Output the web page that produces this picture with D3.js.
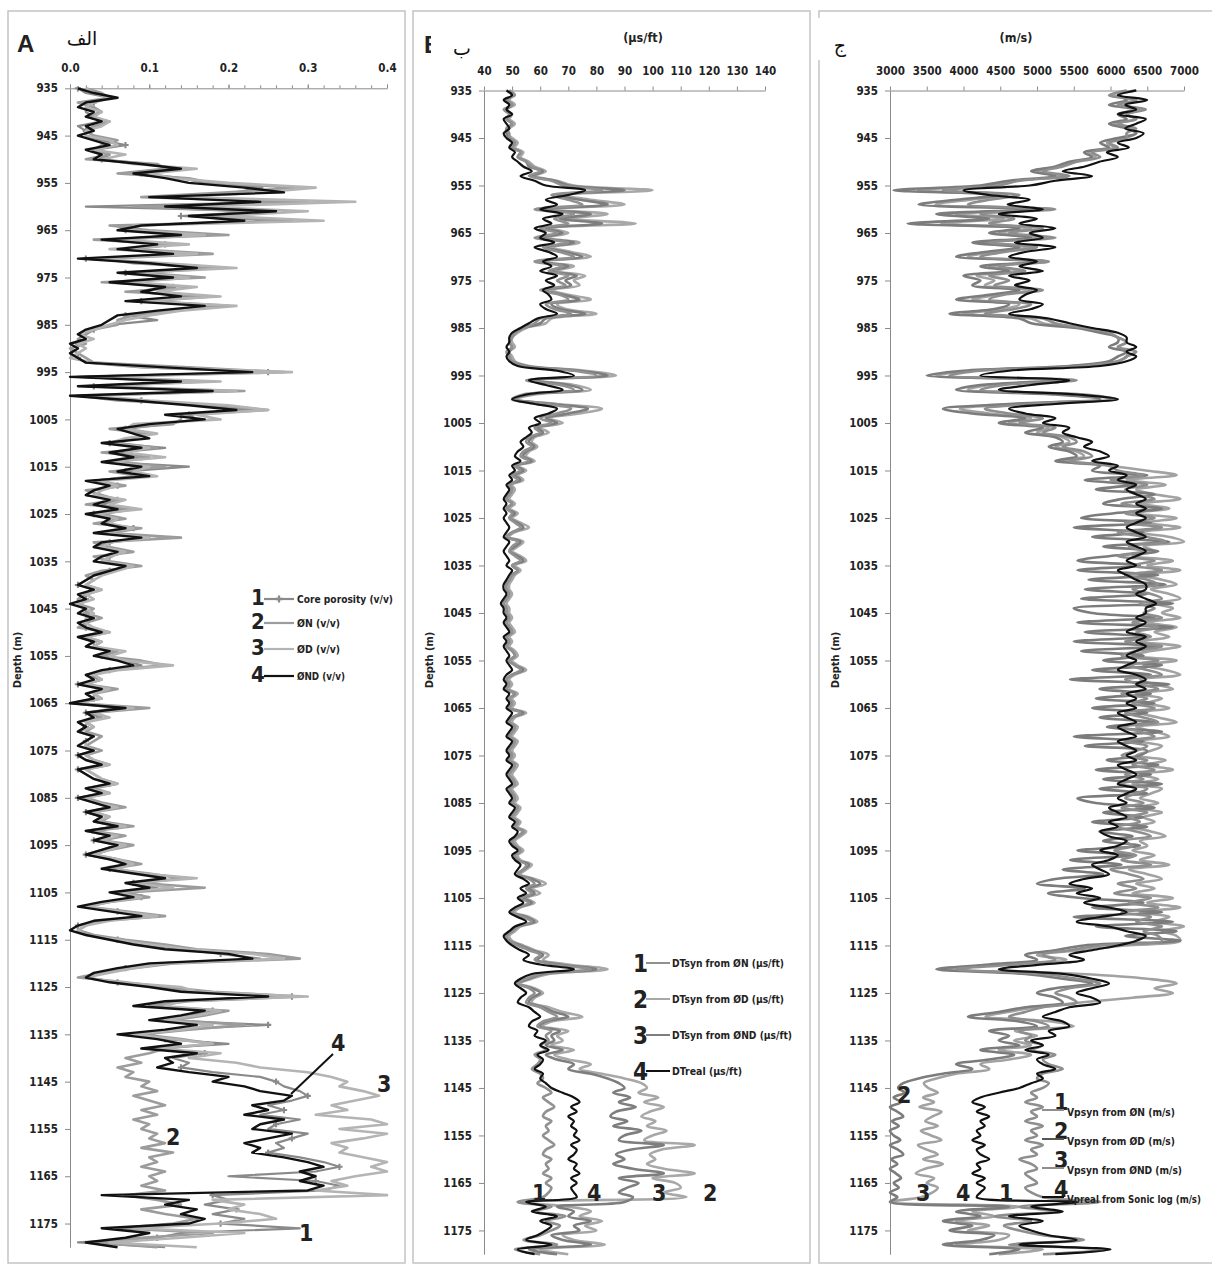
<!DOCTYPE html>
<html>
<head>
<meta charset="utf-8">
<script src="https://d3js.org/d3.v7.min.js"></script>
<style>
body {margin: 0; background: #fff;}
svg text {font-family: "Liberation Sans Narrow", "Arial Narrow", "DejaVu Sans Condensed", sans-serif; font-weight: bold; fill: #222;}
.axis path, .axis line {stroke: #8a8a8a;}
</style>
</head>
<body>
<div id="chart"></div>
<script>
// depth samples, 1 m apart
var depths = d3.range(935, 1181);
var depthTicks = [935,945,955,965,975,985,995,1005,1015,1025,1035,1045,1055,1065,1075,1085,1095,1105,1115,1125,1135,1145,1155,1165,1175];
var porTicks = [0.0, 0.1, 0.2, 0.3, 0.4];
var dtTicks = [40,50,60,70,80,90,100,110,120,130,140];
var vpTicks = [3000,3500,4000,4500,5000,5500,6000,6500,7000];

// --- panel A : porosity (v/v)
var corePor = [
.01,.02,.05,.03,.02,.02,.03,.04,.01,.02,
.02,.04,.07,.03,.05,.04,.10,.13,.09,.14,
.17,.24,.21,.12,.27,.02,.25,.14,.27,.06,
.07,.15,.05,.12,.07,.15,.02,.11,.18,.07,
.14,.06,.13,.08,.16,.09,.18,.12,.07,.11,
.05,.03,.02,.02,.01,.01,.00,.01,.02,.09,
.25,.01,.15,.03,.20,.02,.09,.17,.23,.15,
.16,.12,.07,.09,.08,.05,.12,.06,.09,.05,
.15,.07,.08,.03,.06,.03,.02,.06,.04,.07,
.03,.06,.04,.08,.04,.10,.05,.03,.07,.05,
.04,.08,.05,.03,.02,.01,.03,.02,.02,.01,
.02,.02,.03,.01,.02,.05,.01,.03,.02,.06,
.04,.07,.09,.05,.02,.04,.01,.05,.02,.03,
.00,.06,.02,.04,.01,.02,.01,.03,.02,.02,
.03,.01,.02,.04,.01,.02,.03,.05,.02,.04,
.01,.03,.05,.02,.04,.03,.06,.02,.05,.03,
.06,.04,.02,.05,.08,.05,.09,.15,.08,.11,
.06,.09,.05,.02,.06,.10,.04,.01,.01,.03,
.06,.09,.14,.19,.24,.11,.07,.04,.02,.06,
.11,.15,.28,.14,.10,.18,.15,.11,.25,.13,
.07,.12,.20,.10,.17,.13,.15,.14,.18,.24,
.26,.27,.29,.30,.28,.25,.27,.24,.29,.26,
.25,.30,.28,.26,.27,.25,.29,.32,.34,.31,
.20,.31,.34,.32,.18,.20,.17,.21,.18,.22,
.19,.29,.14,.11,.01,.12];
var phiN = [
.02,.04,.05,.01,.03,.04,.02,.05,.03,.02,
.03,.06,.04,.03,.05,.02,.11,.12,.06,.15,
.18,.29,.20,.09,.30,.08,.22,.18,.28,.05,
.10,.20,.03,.13,.08,.18,.04,.08,.19,.09,
.17,.04,.15,.07,.18,.10,.20,.13,.08,.06,
.06,.03,.02,.01,.02,.00,.01,.02,.03,.15,
.27,.02,.17,.03,.22,.01,.06,.18,.25,.14,
.14,.13,.05,.10,.08,.06,.11,.04,.10,.06,
.12,.05,.09,.03,.07,.02,.04,.06,.02,.08,
.04,.07,.03,.09,.05,.14,.03,.05,.08,.03,
.05,.09,.04,.02,.03,.02,.04,.02,.01,.01,
.03,.02,.04,.02,.01,.05,.02,.04,.03,.06,
.04,.09,.12,.05,.03,.04,.02,.06,.03,.04,
.01,.10,.03,.04,.02,.03,.02,.04,.03,.02,
.04,.02,.03,.05,.02,.03,.04,.06,.03,.05,
.02,.04,.07,.03,.05,.04,.08,.03,.07,.04,
.08,.05,.03,.06,.09,.05,.10,.14,.09,.17,
.07,.10,.05,.02,.07,.12,.04,.02,.01,.03,
.07,.12,.16,.25,.29,.13,.08,.04,.01,.07,
.12,.18,.29,.15,.10,.20,.17,.13,.22,.15,
.09,.14,.18,.12,.10,.07,.09,.06,.08,.07,
.10,.09,.11,.08,.10,.12,.09,.11,.08,.10,
.09,.11,.10,.12,.09,.13,.10,.11,.09,.12,
.10,.11,.09,.12,.07,.11,.14,.09,.12,.16,
.13,.06,.18,.09,.03,.11];
var phiD = [
.02,.03,.05,.03,.02,.04,.03,.05,.04,.02,
.02,.05,.06,.03,.07,.04,.08,.16,.10,.13,
.20,.31,.24,.14,.36,.16,.30,.19,.32,.08,
.08,.17,.06,.15,.05,.16,.03,.12,.21,.08,
.15,.08,.16,.11,.19,.08,.21,.14,.10,.07,
.05,.03,.01,.03,.01,.02,.01,.00,.03,.10,
.28,.03,.19,.02,.21,.03,.10,.20,.25,.16,
.19,.08,.07,.11,.07,.05,.10,.07,.12,.05,
.10,.08,.11,.04,.06,.04,.03,.07,.05,.09,
.03,.06,.05,.08,.04,.10,.05,.04,.07,.05,
.04,.08,.06,.04,.03,.02,.04,.02,.03,.01,
.02,.03,.02,.02,.03,.05,.02,.04,.03,.07,
.05,.07,.13,.06,.03,.04,.02,.05,.03,.04,
.01,.08,.03,.05,.02,.03,.01,.03,.02,.02,
.03,.02,.03,.05,.02,.03,.04,.06,.02,.05,
.02,.03,.06,.03,.05,.03,.07,.02,.06,.04,
.07,.05,.03,.06,.08,.06,.09,.16,.08,.13,
.06,.09,.05,.02,.06,.11,.05,.02,.01,.02,
.06,.10,.15,.23,.27,.12,.08,.05,.02,.06,
.14,.16,.30,.14,.12,.19,.16,.12,.18,.14,
.08,.13,.18,.11,.19,.15,.21,.24,.30,.33,
.35,.34,.37,.39,.36,.33,.35,.31,.38,.40,
.34,.40,.37,.33,.35,.34,.37,.40,.38,.40,
.36,.33,.35,.31,.40,.18,.22,.20,.24,.26,
.19,.08,.22,.14,.05,.16];
var phiND = [
.01,.03,.06,.02,.01,.03,.02,.04,.02,.03,
.01,.03,.05,.02,.04,.03,.09,.14,.08,.12,
.15,.22,.27,.10,.24,.12,.26,.15,.22,.09,
.06,.14,.04,.11,.06,.13,.01,.10,.16,.06,
.13,.05,.12,.09,.14,.07,.17,.11,.06,.05,
.04,.02,.01,.02,.00,.01,.00,.01,.02,.12,
.23,.00,.14,.01,.18,.00,.08,.15,.21,.12,
.17,.10,.06,.08,.10,.04,.09,.05,.08,.04,
.09,.06,.10,.02,.05,.03,.02,.05,.03,.06,
.02,.05,.04,.07,.03,.09,.04,.03,.06,.04,
.03,.07,.05,.03,.02,.01,.03,.01,.02,.00,
.02,.01,.03,.01,.02,.04,.01,.03,.02,.05,
.03,.06,.08,.04,.02,.03,.01,.04,.02,.03,
.00,.07,.02,.03,.01,.02,.01,.03,.02,.01,
.03,.01,.02,.04,.01,.02,.03,.05,.02,.04,
.01,.03,.05,.02,.04,.03,.06,.02,.05,.03,
.06,.04,.02,.05,.07,.04,.08,.12,.07,.10,
.05,.08,.04,.01,.05,.09,.03,.01,.00,.02,
.05,.08,.12,.20,.23,.10,.06,.03,.02,.05,
.10,.14,.25,.12,.08,.17,.14,.10,.16,.12,
.06,.11,.14,.09,.16,.12,.13,.11,.15,.20,
.18,.22,.24,.28,.27,.23,.25,.22,.27,.24,
.23,.28,.25,.22,.24,.23,.27,.30,.32,.29,
.31,.29,.32,.30,.04,.15,.12,.16,.14,.17,
.15,.04,.10,.07,.02,.06];

// --- panel B : sonic transit time (us/ft)
var dtN = [
49,51,48,50,47,49,48,50,48,49,
49,51,50,53,52,55,57,60,56,64,
68,82,64,70,75,58,72,65,70,60,
66,58,70,61,67,72,58,68,63,70,
66,69,60,67,70,62,65,71,60,58,
54,51,50,49,50,48,49,50,54,72,
80,55,67,72,54,50,62,71,66,60,
64,58,60,56,55,57,54,53,56,51,
53,50,52,49,50,49,48,50,48,50,
49,51,53,50,48,52,50,49,51,53,
50,52,50,49,48,48,49,48,47,48,
48,49,48,49,50,48,49,48,50,51,
49,51,53,50,48,49,48,51,49,50,
49,53,50,49,51,50,49,51,50,49,
50,49,51,50,49,50,51,49,50,51,
50,52,51,50,52,51,54,52,50,51,
53,51,52,55,54,52,56,58,55,57,
53,56,52,50,54,57,52,50,48,49,
52,56,60,58,65,78,60,55,52,56,
58,56,55,60,63,66,61,59,64,62,
63,60,62,58,60,59,57,60,61,59,
62,64,61,63,65,62,61,64,62,63,
61,63,65,62,61,64,62,63,61,64,
62,64,63,61,52,64,58,69,62,67,
64,60,54,66,51,60];
var dtD = [
48,50,49,51,48,50,49,51,49,48,
50,52,51,54,53,56,58,62,58,66,
72,100,68,78,90,62,84,70,94,64,
70,62,74,64,71,78,60,72,66,76,
72,74,64,70,78,66,69,80,64,62,
55,52,50,50,51,49,50,51,56,76,
87,57,72,78,58,52,66,82,74,63,
68,60,63,58,57,59,56,55,58,52,
55,52,54,50,51,50,49,51,49,52,
50,53,56,51,49,54,52,50,53,55,
51,53,51,50,49,49,50,49,48,49,
49,50,49,50,51,49,50,49,51,52,
50,52,55,51,49,50,49,52,50,51,
50,55,51,50,52,51,50,52,51,50,
51,50,52,51,50,51,52,50,51,52,
51,53,52,51,53,52,55,53,51,52,
54,52,53,57,55,53,58,62,57,60,
55,58,53,51,56,59,53,51,49,50,
54,58,63,61,70,84,63,57,53,58,
61,58,57,63,68,75,64,61,70,66,
68,64,72,65,70,78,74,82,90,96,
98,95,102,97,104,99,96,101,98,105,
100,97,115,103,99,101,98,104,115,100,
108,110,104,112,52,70,78,74,82,76,
80,68,72,83,60,70];
var dtND = [
49,50,48,50,48,49,48,50,48,48,
49,51,50,53,52,55,56,61,57,65,
70,90,66,74,84,60,78,67,82,62,
68,60,72,62,69,75,59,70,64,73,
69,71,62,68,74,64,67,76,62,60,
54,51,50,49,50,49,49,50,55,74,
84,56,70,75,56,51,64,77,70,62,
66,59,61,57,56,58,55,54,57,51,
54,51,53,49,50,49,48,50,48,51,
49,52,54,50,48,53,51,49,52,54,
50,52,50,49,48,48,49,48,47,48,
48,49,48,49,50,48,49,48,50,51,
49,51,54,50,48,49,48,51,49,50,
49,54,50,49,51,50,49,51,50,49,
50,49,51,50,49,50,51,49,50,51,
50,52,51,50,52,51,54,52,50,51,
53,51,52,56,54,52,57,60,56,58,
54,57,52,50,55,58,52,50,48,49,
53,57,61,59,67,80,61,56,52,57,
60,57,56,61,65,70,62,60,67,64,
65,62,68,62,66,72,70,78,84,88,
90,86,92,88,94,87,85,91,86,96,
90,88,104,92,87,90,86,93,104,88,
95,91,88,93,90,66,72,70,78,72,
74,64,68,78,56,66];
var dtReal = [
48,50,47,49,48,50,47,48,49,47,
48,50,49,51,50,52,54,57,53,58,
62,76,70,62,66,60,68,61,64,58,
62,60,65,58,63,66,61,64,60,66,
62,65,61,63,64,60,62,66,59,56,
53,50,49,49,48,49,48,49,52,66,
72,56,62,68,55,50,58,66,63,58,
60,56,57,55,53,54,52,51,53,50,
51,49,50,48,49,48,47,48,47,48,
47,48,49,48,47,49,48,47,48,49,
48,50,49,48,47,47,48,47,46,47,
47,48,47,48,49,47,48,47,48,49,
48,49,50,48,47,48,47,49,48,49,
48,50,49,48,50,49,48,50,49,48,
49,48,50,49,48,49,50,48,49,50,
49,51,50,49,51,50,52,51,49,50,
52,50,51,53,52,51,54,56,53,55,
52,54,51,49,52,55,51,49,47,48,
50,53,56,54,60,72,57,53,51,53,
55,53,52,56,58,60,57,56,59,58,
62,60,63,59,61,60,58,61,60,62,
64,68,72,74,71,73,70,72,71,73,
72,74,71,73,72,70,73,72,74,71,
73,71,72,73,55,62,57,66,60,64,
62,59,55,64,52,58];

// --- panel C : P-wave velocity (m/s)
var vpN = [
6220,5980,6350,6100,6480,6220,6350,6100,6350,6220,
6220,5980,6100,5750,5860,5540,5350,5080,5440,4760,
4480,3720,4760,4350,4060,5250,4230,4690,4350,5080,
4620,5250,4350,5000,4550,4230,5160,4480,4840,4350,
4620,4420,5080,4550,4350,4920,4690,4290,5080,5250,
5640,5980,6100,6220,6100,6350,6220,6100,5640,4230,
3810,5540,4550,4230,5640,6100,4920,4290,4620,5080,
4760,5250,5080,5440,5540,5350,5640,5750,5440,5980,
6100,6450,6000,6500,6200,6350,6600,6150,6500,6200,
6600,6200,6700,6100,6500,6750,6250,6450,6100,6600,
6300,6700,6200,6500,6650,6300,6550,6700,6400,6600,
6450,6700,6300,6650,6350,6550,6200,6700,6350,6150,
6650,6250,6500,6700,6200,6400,6650,6150,6500,6300,
6600,6200,6450,6650,6150,6400,6600,6200,6500,6350,
6150,6500,6300,6600,6200,6450,6100,6500,6350,6200,
6450,6150,6500,6250,6400,6100,6350,6550,6200,6300,
6050,6350,6150,6550,6000,6250,6450,6100,6350,6050,
6550,6250,6650,6150,6550,6350,6700,6450,6650,6700,
5860,5440,5080,5250,4690,3900,5080,5540,5860,5440,
5250,5440,5540,5080,4840,4620,5000,5160,4760,4920,
4840,5080,4920,5250,5080,5160,5350,5080,5000,5160,
5080,4920,5000,4840,5080,4920,5000,4840,5080,4920,
5000,4840,5080,4920,5000,4760,4920,5000,4840,4920,
5000,4840,4920,5080,5860,4760,5250,4420,4920,4550,
4760,5080,5640,4620,5980,5080];
var vpD = [
6350,6100,6220,5980,6350,6100,6220,5980,6220,6350,
6100,5860,5980,5640,5750,5440,5250,4920,5250,4620,
4230,3050,4480,3900,3390,4920,3630,4350,3240,4760,
4350,4920,4120,4760,4290,3900,5080,4230,4620,4000,
4230,4120,4760,4350,3900,4620,4420,3810,4760,4920,
5540,5860,6100,6100,5980,6220,6100,5980,5440,4000,
3500,5350,4230,3900,5250,5860,4620,3720,4120,4840,
4480,5080,4840,5250,5350,5160,5440,5540,5250,5860,
5750,6500,5650,6300,5800,6600,6150,5900,6700,6050,
5600,6550,5500,6450,5750,6800,5900,6650,6000,5550,
6400,5550,6650,5700,6750,5650,6500,5600,6850,5500,
5750,6600,5550,6850,5650,6500,5500,6700,5600,6450,
5900,6700,5750,6550,5450,6800,5850,6550,5800,6600,
5750,6500,5850,6600,5950,6700,5500,6450,5650,6500,
6400,5950,6650,5800,6550,5900,6700,5850,6500,5550,
5800,6600,5900,6450,5750,6500,5850,6300,5900,6400,
5550,6300,5450,6150,5350,5900,5250,5000,5650,5150,
5600,6450,5750,6700,5500,6850,5800,6900,6200,6950,
5640,5250,4840,5000,4350,3630,4840,5350,5750,5250,
5000,5250,5350,4840,4480,4060,4760,5000,4350,4620,
4480,4760,4230,4690,4350,3900,4120,3720,3390,3180,
3110,3200,3050,3150,3000,3100,3180,3030,3120,3000,
3050,3140,3000,3110,3180,3020,3100,3000,3080,3150,
3050,3120,3000,3100,3000,4620,3900,4230,3720,4120,
3810,4420,4230,3720,4760,4350];
var vpND = [
6350,6000,6350,6100,6420,6220,6350,6050,6300,6350,
6200,5950,6050,5700,5800,5500,5300,5000,5350,4700,
4350,3380,4600,4100,3620,5080,3900,4550,3700,4920,
4480,5080,4230,4900,4420,4060,5160,4350,4760,4180,
4420,4290,4920,4480,4120,4760,4550,4000,4920,5080,
5640,5950,6100,6220,6100,6220,6220,6100,5540,4120,
3630,5440,4350,4060,5440,6000,4760,3950,4350,4920,
4620,5160,5000,5350,5440,5250,5540,5640,5350,5980,
6480,6900,6220,6750,6350,6600,6950,6400,6800,6300,
6900,6500,6950,6350,6800,7000,6450,6600,6300,6850,
6500,6950,6400,6700,6900,6550,6800,6950,6600,6850,
6700,6950,6500,6900,6600,6800,6400,6950,6550,6300,
6900,6450,6750,6950,6400,6600,6850,6350,6700,6500,
6800,6400,6650,6900,6350,6600,6800,6400,6700,6550,
6350,6750,6500,6850,6400,6650,6300,6700,6550,6400,
6650,6350,6700,6450,6600,6300,6550,6750,6400,6500,
6300,6600,6400,6800,6250,6500,6700,6350,6600,6300,
6850,6500,6950,6400,6800,6600,7000,6700,6900,6950,
6200,5600,5000,5400,4500,3700,5600,6500,6900,6600,
6850,6300,5600,5000,4600,4300,5200,5500,4700,5000,
4690,4920,4480,4920,4620,4230,4350,3900,3630,3460,
3520,3650,3450,3600,3400,3700,3580,3480,3650,3420,
3560,3700,3380,3500,3650,3450,3720,3480,3350,3600,
3500,3650,3580,3420,3000,4760,4120,4420,3900,4350,
4060,4620,4480,3900,5080,4480];
var vpReal = [
6350,6100,6500,6200,6350,6100,6480,6350,6200,6450,
6350,6100,6250,5950,6100,5850,5650,5350,5750,5250,
4900,4000,4350,4900,4600,5080,4480,5000,4760,5250,
4900,5080,4700,5250,4840,4620,5000,4760,5080,4620,
4900,4700,5000,4840,4760,5080,4920,4620,5160,5440,
5750,6100,6220,6220,6350,6220,6350,6220,5860,4620,
4230,5440,4920,4480,5540,6100,5250,4620,4840,5250,
5080,5440,5350,5540,5750,5640,5860,5980,5750,6100,
5980,6220,6100,6350,6220,6350,6480,6350,6480,6350,
6480,6350,6220,6350,6480,6220,6350,6480,6350,6220,
6350,6100,6220,6350,6480,6480,6350,6480,6620,6480,
6480,6350,6480,6350,6220,6480,6350,6480,6350,6220,
6350,6220,6100,6350,6480,6350,6480,6220,6350,6220,
6350,6100,6220,6350,6100,6220,6350,6100,6220,6350,
6220,6350,6100,6220,6350,6220,6100,6350,6220,6100,
6220,5980,6100,6220,5980,6100,5860,5980,6220,6100,
5860,6100,5980,5750,5860,5980,5640,5440,5750,5540,
5860,5640,5980,6220,5860,5540,5980,6220,6480,6350,
6100,5750,5440,5640,5080,4480,5350,5750,5980,5750,
5540,5750,5860,5440,5250,5080,5350,5440,5160,5250,
4920,5080,4840,5160,5000,5080,5250,5000,5080,4920,
4760,4480,4230,4120,4290,4180,4350,4230,4290,4180,
4230,4120,4290,4180,4230,4350,4180,4230,4120,4290,
4180,4290,4230,4180,5540,4920,5350,4620,5080,4760,
4920,5160,5540,4760,6000,5250];

var width = 1212;
var height = 1266;

var svg = d3.select("#chart").append("svg")
	.attr("width", width)
	.attr("height", height);

svg.append("rect").attr("width", width).attr("height", height).attr("fill", "#fff");

// panel frames
[[8, 11, 397, 1252], [413, 11, 397, 1252], [819, 11, 400, 1252]].forEach(function(f) {
	svg.append("rect")
		.attr("x", f[0]).attr("y", f[1])
		.attr("width", f[2]).attr("height", f[3])
		.attr("fill", "none")
		.attr("stroke", "#c4c4c4")
		.attr("stroke-width", 1.5);
});

function drawPanel(opt) {
	var x = d3.scaleLinear().domain(opt.xDomain).range(opt.xRange);
	var y = d3.scaleLinear().domain([935, 1180]).range(opt.yRange);
	var g = svg.append("g");

	var clipId = "clip" + opt.id;
	svg.append("clipPath").attr("id", clipId).append("rect")
		.attr("x", opt.xRange[0] - 2).attr("y", opt.yRange[0] - 2)
		.attr("width", opt.xRange[1] - opt.xRange[0] + 4)
		.attr("height", opt.yRange[1] - opt.yRange[0] + 4);

	// top value axis
	if (opt.minor) {
		g.append("g").attr("class", "axis")
			.attr("transform", "translate(0," + y(935) + ")")
			.call(d3.axisTop(x).tickValues(opt.minor).tickFormat("").tickSize(3))
			.select(".domain").remove();
	}
	var xa = g.append("g").attr("class", "axis")
		.attr("transform", "translate(0," + y(935) + ")")
		.call(d3.axisTop(x).tickValues(opt.xTicks).tickFormat(opt.fmt).tickSizeInner(4).tickSizeOuter(0).tickPadding(12));
	xa.selectAll("text").attr("font-size", 11.5);

	// depth axis
	var ya = g.append("g").attr("class", "axis")
		.attr("transform", "translate(" + opt.xRange[0] + ",0)")
		.call(d3.axisLeft(y).tickValues(depthTicks).tickFormat(d3.format("d")).tickSizeInner(5).tickSizeOuter(0).tickPadding(7));
	ya.selectAll("text").attr("font-size", 11.5);

	g.append("text")
		.attr("transform", "translate(" + opt.labelX + ",660) rotate(-90)")
		.attr("text-anchor", "middle")
		.attr("font-size", 11)
		.text("Depth (m)");

	var plot = g.append("g").attr("clip-path", "url(#" + clipId + ")");
	opt.series.forEach(function(s) {
		var pts = depths.map(function(d, i) { return [d, s.values[i]]; })
			.filter(function(p) { return p[1] != null; });
		var line = d3.line()
			.x(function(p) { return x(p[1]); })
			.y(function(p) { return y(p[0]); })
			.curve(opt.curve);
		plot.append("path")
			.datum(pts)
			.attr("fill", "none")
			.attr("stroke", s.color)
			.attr("stroke-width", s.width)
			.attr("stroke-linejoin", "round")
			.attr("d", line);
		if (s.marker) {
			plot.selectAll(null)
				.data(pts.filter(function(p, i) { return i % 3 === 0; }))
				.enter().append("path")
				.attr("transform", function(p) { return "translate(" + x(p[1]) + "," + y(p[0]) + ")"; })
				.attr("d", d3.symbol().type(d3.symbolCross).size(22))
				.attr("fill", s.color);
		}
	});
	return {x: x, y: y};
}

// A
drawPanel({
	id: "A",
	xDomain: [0, 0.4], xRange: [70, 387], yRange: [88.3, 1247.2],
	xTicks: porTicks, minor: d3.range(0, 0.401, 0.02), fmt: d3.format(".1f"),
	labelX: 21,
	curve: d3.curveLinear,
	series: [
		{values: corePor, color: "#8a8a8a", width: 2.2, marker: true},
		{values: phiN, color: "#9c9c9c", width: 2.6},
		{values: phiD, color: "#b4b4b4", width: 2.6},
		{values: phiND, color: "#111", width: 2.4}
	]
});

// B
drawPanel({
	id: "B",
	xDomain: [40, 140], xRange: [484, 765], yRange: [90.5, 1254.2],
	xTicks: dtTicks, fmt: d3.format("d"),
	labelX: 433,
	curve: d3.curveCatmullRom.alpha(0.5),
	series: [
		{values: dtD, color: "#a8a8a8", width: 2.6},
		{values: dtND, color: "#7e7e7e", width: 2.6},
		{values: dtN, color: "#919191", width: 2.6},
		{values: dtReal, color: "#111", width: 2.2}
	]
});

// C
drawPanel({
	id: "C",
	xDomain: [3000, 7000], xRange: [890, 1184], yRange: [90.5, 1254.2],
	xTicks: vpTicks, fmt: d3.format("d"),
	labelX: 839,
	curve: d3.curveCatmullRom.alpha(0.5),
	series: [
		{values: vpND, color: "#a2a2a2", width: 2.6},
		{values: vpD, color: "#7c7c7c", width: 2.6},
		{values: vpN, color: "#8e8e8e", width: 2.6},
		{values: vpReal, color: "#111", width: 2.2}
	]
});

// panel letters, units
svg.append("text").attr("x", 17).attr("y", 52).attr("font-size", 24).style("font-family", "Liberation Sans, Arial, sans-serif").text("A");
svg.append("text").attr("x", 424).attr("y", 53).attr("font-size", 24).style("font-family", "Liberation Sans, Arial, sans-serif").text("B");
svg.append("rect").attr("x", 431).attr("y", 18).attr("width", 50).attr("height", 45).attr("fill", "#fff");
svg.append("rect").attr("x", 816).attr("y", 18).attr("width", 60).attr("height", 42).attr("fill", "#fff");

[[82, 45, "الف"], [462, 55, "ب"], [840, 52, "ج"]].forEach(function(t) {
	svg.append("text")
		.attr("x", t[0]).attr("y", t[1])
		.attr("text-anchor", "middle")
		.attr("font-size", 19)
		.style("font-family", "DejaVu Sans, sans-serif")
		.style("font-weight", "normal")
		.style("fill", "#111")
		.text(t[2]);
});

svg.append("text").attr("x", 643).attr("y", 42).attr("text-anchor", "middle").attr("font-size", 12.5).text("(µs/ft)");
svg.append("text").attr("x", 1016).attr("y", 42).attr("text-anchor", "middle").attr("font-size", 12.5).text("(m/s)");

function legText(xx, yy, t, w, size) {
	svg.append("text").attr("x", xx).attr("y", yy).attr("font-size", size)
		.attr("textLength", w).attr("lengthAdjust", "spacingAndGlyphs").text(t);
}

// legend A
var legA = [
	{n: "1", t: "Core porosity (v/v)", w: 96, c: "#8a8a8a", m: true},
	{n: "2", t: "ØN (v/v)", w: 43, c: "#9c9c9c"},
	{n: "3", t: "ØD (v/v)", w: 43, c: "#b4b4b4"},
	{n: "4", t: "ØND (v/v)", w: 48, c: "#111"}
];
var legAy = [599, 623, 649, 676];
legA.forEach(function(l, i) {
	var yy = legAy[i];
	svg.append("text").attr("x", 251).attr("y", yy + 6).attr("font-size", 22).text(l.n);
	svg.append("line").attr("x1", 264).attr("x2", 294).attr("y1", yy).attr("y2", yy)
		.attr("stroke", l.c).attr("stroke-width", 2.2);
	if (l.m) svg.append("path").attr("transform", "translate(279," + yy + ")")
		.attr("d", d3.symbol().type(d3.symbolCross).size(26)).attr("fill", l.c);
	legText(297, yy + 4, l.t, l.w, 10.5);
});

// legend B
var legB = [
	{n: "1", t: "DTsyn from ØN (µs/ft)", w: 112, c: "#919191"},
	{n: "2", t: "DTsyn from ØD (µs/ft)", w: 112, c: "#a8a8a8"},
	{n: "3", t: "DTsyn from ØND (µs/ft)", w: 120, c: "#7e7e7e"},
	{n: "4", t: "DTreal (µs/ft)", w: 70, c: "#111"}
];
var legBy = [963, 999, 1035, 1071];
legB.forEach(function(l, i) {
	var yy = legBy[i];
	svg.append("text").attr("x", 633).attr("y", yy + 9).attr("font-size", 24).text(l.n);
	svg.append("line").attr("x1", 646).attr("x2", 670).attr("y1", yy).attr("y2", yy)
		.attr("stroke", l.c).attr("stroke-width", 2);
	legText(672, yy + 4, l.t, l.w, 10.5);
});

// legend C
var legC = [
	{n: "1", t: "Vpsyn from ØN (m/s)", w: 108, c: "#8e8e8e"},
	{n: "2", t: "Vpsyn from ØD (m/s)", w: 108, c: "#555"},
	{n: "3", t: "Vpsyn from ØND (m/s)", w: 115, c: "#8e8e8e"},
	{n: "4", t: "Vpreal from Sonic log (m/s)", w: 134, c: "#111"}
];
var legCy = [1110, 1139, 1168, 1197];
legC.forEach(function(l, i) {
	var yy = legCy[i];
	svg.append("text").attr("x", 1054).attr("y", yy).attr("font-size", 23).text(l.n);
	svg.append("line").attr("x1", 1042).attr("x2", 1064).attr("y1", yy).attr("y2", yy)
		.attr("stroke", l.c).attr("stroke-width", 2);
	legText(1067, yy + 6, l.t, l.w, 10.5);
});

// curve numbers inside the plots
var marks = [
	[331, 1051, "4"], [377, 1092, "3"], [166, 1145, "2"], [299, 1241, "1"],
	[532, 1201, "1"], [587, 1201, "4"], [652, 1201, "3"], [703, 1201, "2"],
	[897, 1103, "2"], [916, 1201, "3"], [956, 1201, "4"], [999, 1201, "1"]
];
marks.forEach(function(m) {
	svg.append("text").attr("x", m[0]).attr("y", m[1]).attr("font-size", 23).text(m[2]);
});
svg.append("line").attr("x1", 333).attr("y1", 1054).attr("x2", 291).attr("y2", 1094)
	.attr("stroke", "#111").attr("stroke-width", 2);
</script>
</body>
</html>
